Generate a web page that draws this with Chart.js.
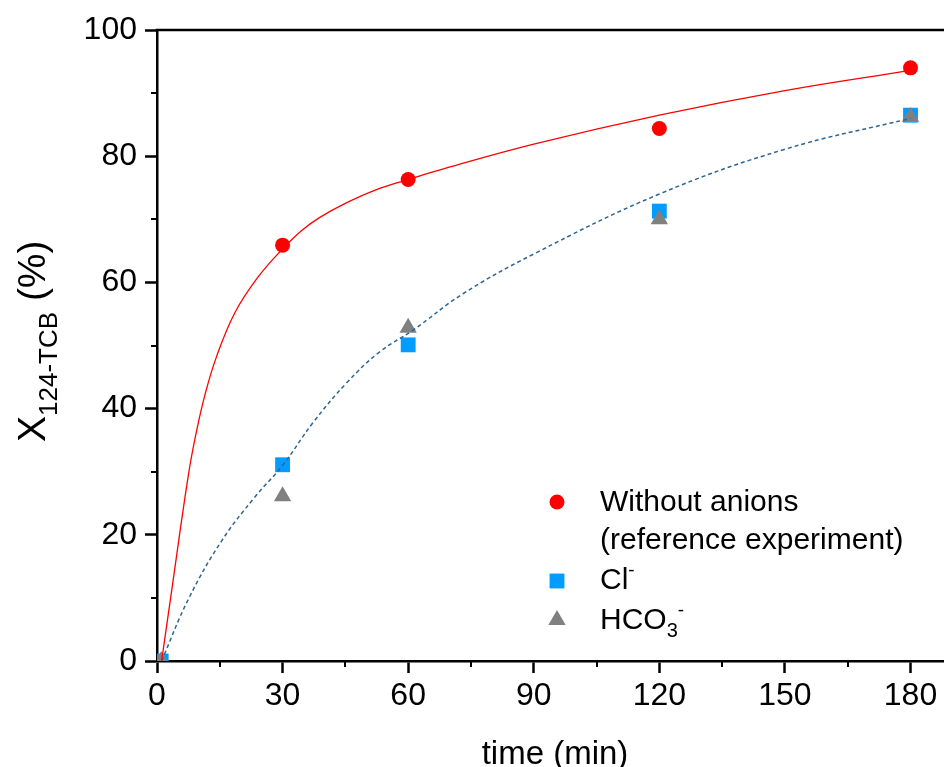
<!DOCTYPE html>
<html>
<head>
<meta charset="utf-8">
<script src="https://cdn.jsdelivr.net/npm/chart.js@4.4.1/dist/chart.umd.min.js"></script>
<style>
  html, body { margin: 0; padding: 0; background: #fff; }
  #chart { display: block; }
</style>
</head>
<body>
<canvas id="chart" width="944" height="767"></canvas>
<script>
const SERIES = ["Without anions", "Cl", "HCO3"];

// measured points
const TIME = [30, 60, 120, 180];
const NO_ANIONS = [65.9, 76.3, 84.4, 94.0];
const ANION_TIME = [1, 30, 60, 120, 180];
const CL = [0, 31.1, 50.1, 71.3, 86.5];
const HCO3 = [0, 26.1, 52.8, 70.0, 86.2];

// fitted curves
const FIT_RED_T = [1.1, 3.3, 7.5, 9.5, 11.5, 14.2, 18.6, 24.2, 30, 34.5, 38.9, 45.2, 52, 60, 69, 90, 120, 150, 180];
const FIT_RED = [0, 10.2, 29.5, 36.6, 42.3, 48.2, 55.2, 60.9, 65.3, 68.2, 70.3, 72.6, 74.6, 76.3, 78.1, 81.9, 86.5, 90.4, 93.6];
const FIT_BLUE_T = [1.1, 7.5, 15.4, 23.4, 30, 37.3, 45.2, 53.2, 61.1, 73.1, 90, 120, 150, 180];
const FIT_BLUE = [0, 9.8, 19.0, 26.0, 31.0, 37.8, 44.0, 49.0, 52.4, 58.2, 64.5, 74.0, 81.1, 86.0];

const X_TICKS = [0, 30, 60, 90, 120, 150, 180];
const X_MINOR = [15, 45, 75, 105, 135, 165];
const Y_TICKS = [0, 20, 40, 60, 80, 100];
const Y_MINOR = [10, 30, 50, 70, 90];

const FONT = "'Liberation Sans', Arial, sans-serif";
const RED = "#ff0000";
const BLUE = "#009cff";
const GRAY = "#808080";
const FIT_BLUE_COLOR = "#2e6492";

const $ctx = document.getElementById("chart");

function toXY(xs, ys) {
  return xs.map((x, i) => ({ x, y: ys[i] }));
}

// text with sub/superscripts: parts = [[text, size, dy], ...]
function drawRich(ctx, parts, x, y) {
  parts.forEach(([text, size, dy]) => {
    ctx.font = `${size}px ${FONT}`;
    ctx.fillText(text, x, y + (dy || 0));
    x += ctx.measureText(text).width;
  });
}

const extras = {
  id: "extras",
  // plot runs right up to the canvas edge, like the cropped original
  afterLayout(chart) {
    const xs = chart.scales.x;
    chart.chartArea.right = chart.width;
    chart.chartArea.width = chart.width - chart.chartArea.left;
    xs.right = chart.width;
    xs.width = xs.right - xs.left;
    xs.configure();
    xs._labelItems = null;
    xs._gridLineItems = null;
  },
  afterDraw(chart) {
    const ctx = chart.ctx;
    const { left, right, top, bottom } = chart.chartArea;
    const xs = chart.scales.x;
    const ys = chart.scales.y;
    ctx.save();
    ctx.strokeStyle = "#000";
    ctx.lineWidth = 2.5;
    ctx.beginPath();
    ctx.moveTo(left - 1.25, top);
    ctx.lineTo(right, top);
    ctx.stroke();

    ctx.lineWidth = 2;
    X_MINOR.forEach((v) => {
      const px = Math.round(xs.getPixelForValue(v));
      ctx.beginPath();
      ctx.moveTo(px, bottom);
      ctx.lineTo(px, bottom + 6);
      ctx.stroke();
    });
    Y_MINOR.forEach((v) => {
      const py = Math.round(ys.getPixelForValue(v));
      ctx.beginPath();
      ctx.moveTo(left, py);
      ctx.lineTo(left - 6, py);
      ctx.stroke();
    });

    ctx.fillStyle = "#000";
    ctx.textBaseline = "alphabetic";
    ctx.textAlign = "center";
    ctx.font = `33px ${FONT}`;
    ctx.fillText("time (min)", 555, 764);

    ctx.textAlign = "left";
    ctx.save();
    ctx.translate(45, 442);
    ctx.rotate(-Math.PI / 2);
    drawRich(ctx, [["X", 39], ["124-TCB", 26, 12], [" (%)", 39]], 0, 0);
    ctx.restore();

    // legend
    const marker = (style, color, r, x, y) => {
      ctx.fillStyle = color;
      Chart.helpers.drawPoint(ctx, { pointStyle: style, radius: r, rotation: 0, borderWidth: 0 }, x, y);
    };
    marker("circle", RED, 7.5, 557, 502);
    marker("rect", BLUE, 10.5, 557, 581);
    marker("triangle", GRAY, 10, 557, 620);

    ctx.fillStyle = "#000";
    drawRich(ctx, [[SERIES[0], 30]], 600, 511);
    drawRich(ctx, [["(reference experiment)", 30]], 600, 549);
    drawRich(ctx, [[SERIES[1], 30], ["-", 19, -13]], 600, 589);
    drawRich(ctx, [["HCO", 30], ["3", 20, 8], ["-", 19, -13]], 600, 629);
    ctx.restore();
  },
};

new Chart($ctx, {
  type: "scatter",
  data: {
    datasets: [
      {
        label: "fit red",
        data: toXY(FIT_RED_T, FIT_RED),
        showLine: true,
        borderColor: RED,
        borderWidth: 1.3,
        pointRadius: 0,
        tension: 0.4,
        order: 0,
      },
      {
        label: "fit blue",
        data: toXY(FIT_BLUE_T, FIT_BLUE),
        showLine: true,
        borderColor: FIT_BLUE_COLOR,
        borderWidth: 1.5,
        borderDash: [4, 3],
        pointRadius: 0,
        tension: 0.4,
        order: 1,
      },
      {
        label: SERIES[2],
        data: toXY(ANION_TIME, HCO3),
        pointStyle: "triangle",
        pointRadius: 10,
        pointBorderWidth: 0,
        backgroundColor: GRAY,
        clip: 0,
        order: 2,
      },
      {
        label: SERIES[1],
        data: toXY(ANION_TIME, CL),
        pointStyle: "rect",
        pointRadius: 10.5,
        pointBorderWidth: 0,
        backgroundColor: BLUE,
        clip: 0,
        order: 3,
      },
      {
        label: SERIES[0],
        data: toXY(TIME, NO_ANIONS),
        pointStyle: "circle",
        pointRadius: 7.5,
        pointBorderWidth: 0,
        backgroundColor: RED,
        clip: 0,
        order: 4,
      },
    ],
  },
  options: {
    responsive: false,
    animation: false,
    layout: { padding: { top: 30, right: 0, left: 0, bottom: 0 } },
    plugins: {
      legend: { display: false },
      tooltip: { enabled: false },
    },
    scales: {
      x: {
        type: "linear",
        min: 0,
        max: 188,
        afterBuildTicks: (scale) => {
          scale.ticks = X_TICKS.map((value) => ({ value }));
        },
        afterFit: (scale) => {
          scale.height = 106;
        },
        ticks: {
          color: "#000",
          font: { family: FONT, size: 32 },
          padding: 4,
          maxRotation: 0,
        },
        grid: {
          drawOnChartArea: false,
          tickLength: 12,
          tickWidth: 2.5,
          tickColor: "#000",
        },
        border: { color: "#000", width: 2.5 },
      },
      y: {
        type: "linear",
        min: 0,
        max: 100,
        afterBuildTicks: (scale) => {
          scale.ticks = Y_TICKS.map((value) => ({ value }));
        },
        afterFit: (scale) => {
          scale.width = 157;
        },
        ticks: {
          color: "#000",
          font: { family: FONT, size: 32 },
          padding: 8,
        },
        grid: {
          drawOnChartArea: false,
          tickLength: 12,
          tickWidth: 2.5,
          tickColor: "#000",
        },
        border: { color: "#000", width: 2.5 },
      },
    },
  },
  plugins: [extras],
});
</script>
</body>
</html>
